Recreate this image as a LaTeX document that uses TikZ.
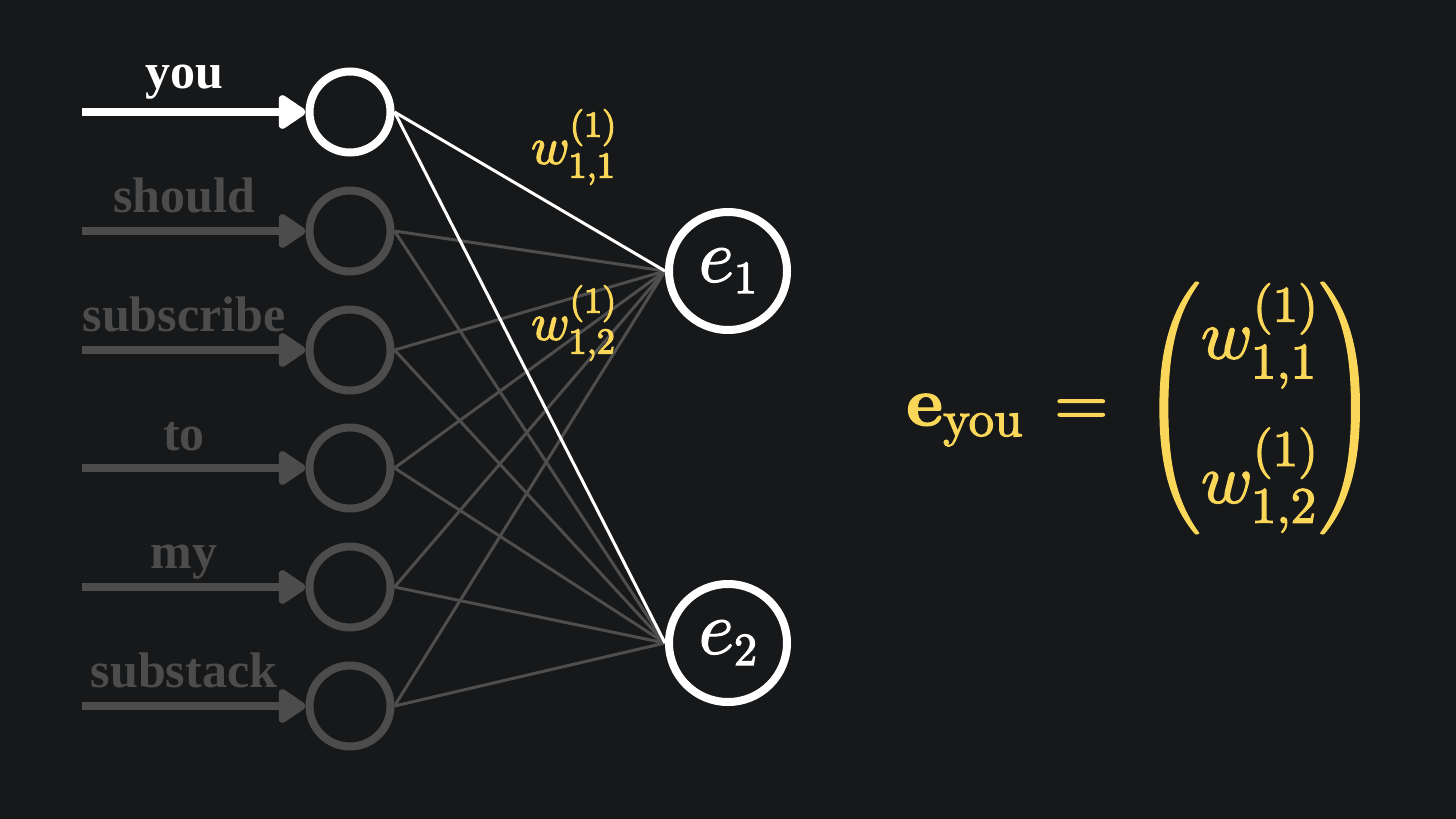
\documentclass[tikz,border=0pt]{standalone}
\usepackage{amsmath}
\usepackage[no-math]{fontspec}
\newfontfamily\labfont{Liberation Serif}
\DeclareFontShape{OT1}{cmr}{m}{n}{<->cmr10}{}
\DeclareFontShape{OT1}{cmr}{bx}{n}{<->cmbx10}{}
\DeclareFontShape{OML}{cmm}{m}{it}{<->cmmi10}{}
\DeclareFontShape{OMS}{cmsy}{m}{n}{<->cmsy10}{}
\DeclareFontShape{OMX}{cmex}{m}{n}{<->cmex10}{}
\DeclareMathSizes{76}{76}{46}{34}
\DeclareMathSizes{70}{70}{51}{36}
\newcommand\heavytxt[1]{\special{pdf:literal direct 2 Tr 1.2 w}#1\special{pdf:literal direct 0 Tr}}
\usetikzlibrary{arrows.meta,backgrounds}
\definecolor{bg}{RGB}{23,24,26}
\definecolor{dim}{RGB}{76,76,76}
\definecolor{dimline}{RGB}{78,78,78}
\definecolor{gold}{RGB}{250,215,88}
\tikzset{
  inode/.style={circle, draw=dim, line width=8pt, minimum size=81pt, inner sep=0pt, fill=bg},
  onode/.style={circle, draw=white, line width=8pt, minimum size=118pt, inner sep=0pt, fill=bg, text=white, font=\fontsize{76}{90}\selectfont},
  arr/.style={line width=8pt, -{Triangle[length=30pt,width=38pt,round]}},
  lab/.style={anchor=base, inner sep=0pt, font=\labfont\bfseries\fontsize{50}{60}\selectfont},
  gline/.style={draw=dimline, line width=3pt},
  wline/.style={draw=white, line width=3pt},
  wlab/.style={text=gold, inner sep=0pt, font=\fontsize{52}{62}\selectfont},
}
\begin{document}
\begin{tikzpicture}[x=1pt,y=-1pt]
% input nodes
\node[inode, draw=white] (i1) at (350,112) {};
\node[inode] (i2) at (350,231) {};
\node[inode] (i3) at (350,350) {};
\node[inode] (i4) at (350,468) {};
\node[inode] (i5) at (350,587) {};
\node[inode] (i6) at (350,706) {};
% output nodes
\node[onode] (e1) at (728,271) {\heavytxt{$e_1$}};
\node[onode] (e2) at (728,643) {\heavytxt{$e_2$}};
% start points of input arrows
\coordinate (s1) at (82,112);
\coordinate (s2) at (82,231);
\coordinate (s3) at (82,350);
\coordinate (s4) at (82,468);
\coordinate (s5) at (82,587);
\coordinate (s6) at (82,706);
\draw[arr, draw=white, fill=white] (s1) -- (i1);
\draw[arr, draw=dim, fill=dim] (s2) -- (i2);
\draw[arr, draw=dim, fill=dim] (s3) -- (i3);
\draw[arr, draw=dim, fill=dim] (s4) -- (i4);
\draw[arr, draw=dim, fill=dim] (s5) -- (i5);
\draw[arr, draw=dim, fill=dim] (s6) -- (i6);
% word labels
\node[lab, text=white] (l1) at (184,88) {you};
\node[lab, text=dim] (l2) at (184,212) {should};
\node[lab, text=dim] (l3) at (184,331) {subscribe};
\node[lab, text=dim] (l4) at (184,450) {to};
\node[lab, text=dim] (l5) at (184,568) {my};
\node[lab, text=dim] (l6) at (184,687) {substack};
% connectors
\begin{scope}[on background layer]
\fill[bg] (0,0) rectangle (1456,819);
\foreach \n in {i2,i3,i4,i5,i6}{
  \draw[gline] (\n.east) -- (e1.west);
  \draw[gline] (\n.east) -- (e2.west);
}
\draw[wline] (i1.east) -- (e1.west);
\draw[wline] (i1.east) -- (e2.west);
\end{scope}
% weight labels
\node[wlab] (w11) at (574,147) {\heavytxt{$w^{(1)}_{1,1}$}};
\node[wlab] (w12) at (574,323) {\heavytxt{$w^{(1)}_{1,2}$}};
% equation
\node[text=gold, inner sep=0pt, font=\fontsize{70}{84}\selectfont] (eq) at (1143,408)
  {\heavytxt{$\mathbf{e}_{\mathrm{you}} \,=\, \begin{pmatrix} w^{(1)}_{1,1} \\[44pt] w^{(1)}_{1,2}\end{pmatrix}$}};
\end{tikzpicture}
\end{document}
